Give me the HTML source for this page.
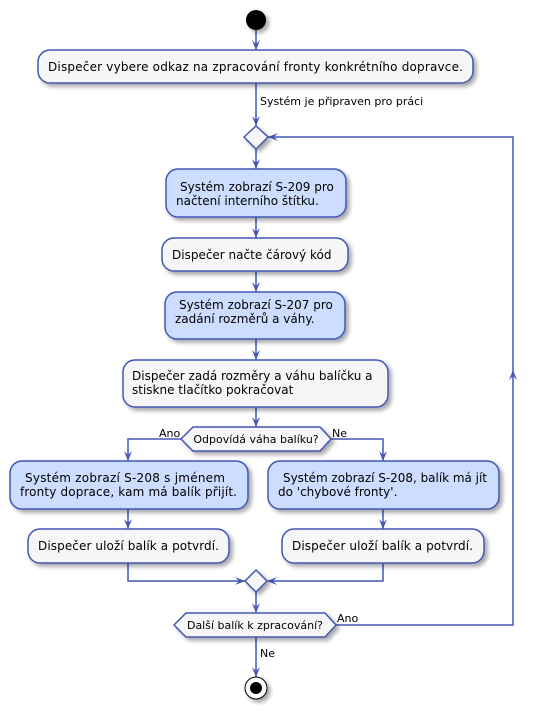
<!DOCTYPE html>
<html><head><meta charset="utf-8"><style>
body{margin:0;background:#fff}
svg text{font-family:"DejaVu Sans","Liberation Sans",sans-serif;fill:#000}
</style></head><body>
<svg width="536" height="710" viewBox="0 0 536 710" xmlns="http://www.w3.org/2000/svg">
<defs>
<filter id="sh" x="-10%" y="-10%" width="130%" height="140%"><feGaussianBlur in="SourceAlpha" stdDeviation="2"/><feOffset dx="3" dy="3"/><feComponentTransfer><feFuncA type="linear" slope="0.35"/></feComponentTransfer><feMerge><feMergeNode/><feMergeNode in="SourceGraphic"/></feMerge></filter>
</defs>
<g stroke="#4256b5" stroke-width="1.5" fill="none">
<line x1="256" y1="30" x2="256" y2="50"/>
<line x1="256" y1="83" x2="256" y2="126"/>
<line x1="256" y1="149" x2="256" y2="169"/>
<line x1="256" y1="217" x2="256" y2="238"/>
<line x1="256" y1="271" x2="256" y2="292"/>
<line x1="256" y1="339" x2="256" y2="360"/>
<line x1="256" y1="407" x2="256" y2="427"/>
<polyline points="181,439 128,439 128,461"/>
<polyline points="331,439 383,439 383,461"/>
<line x1="128" y1="509" x2="128" y2="529"/>
<line x1="383" y1="509" x2="383" y2="529"/>
<polyline points="128,563 128,581 245,581"/>
<polyline points="383,563 383,581 267,581"/>
<line x1="256" y1="592" x2="256" y2="613"/>
<line x1="256" y1="637" x2="256" y2="677"/>
<polyline points="336,625 513,625 513,137 268,137"/>
</g>
<g fill="#4256b5">
<polygon points="252,40 256,50 260,40 256,44"/>
<polygon points="252,116 256,126 260,116 256,120"/>
<polygon points="252,159 256,169 260,159 256,163"/>
<polygon points="252,228 256,238 260,228 256,232"/>
<polygon points="252,282 256,292 260,282 256,286"/>
<polygon points="252,350 256,360 260,350 256,354"/>
<polygon points="252,417 256,427 260,417 256,421"/>
<polygon points="124,451 128,461 132,451 128,455"/>
<polygon points="379,451 383,461 387,451 383,455"/>
<polygon points="124,519 128,529 132,519 128,523"/>
<polygon points="379,519 383,529 387,519 383,523"/>
<polygon points="235,577 245,581 235,585 239,581"/>
<polygon points="277,577 267,581 277,585 273,581"/>
<polygon points="252,603 256,613 260,603 256,607"/>
<polygon points="252,667 256,677 260,667 256,671"/>
<polygon points="278,133 268,137 278,141 274,137"/>
<polygon points="509,380 513,370 517,380 513,376"/>
</g>
<g stroke="#4256b5" stroke-width="1.5" filter="url(#sh)">
<circle cx="256" cy="20" r="10" fill="#000" stroke="none"/>
<rect x="38" y="50" width="435" height="33" rx="12" fill="#f6f6f6"/>
<polygon points="256,126 268,137 256,149 244,137" fill="#f6f6f6"/>
<rect x="166" y="169" width="180" height="48" rx="12" fill="#ccddff"/>
<rect x="162" y="238" width="186" height="33" rx="12" fill="#f6f6f6"/>
<rect x="165" y="292" width="180" height="47" rx="12" fill="#ccddff"/>
<rect x="123" y="360" width="265" height="47" rx="12" fill="#f6f6f6"/>
<polygon points="181,439 193,427 320,427 331,439 320,451 193,451" fill="#f6f6f6"/>
<rect x="10" y="461" width="238" height="48" rx="12" fill="#ccddff"/>
<rect x="268" y="461" width="231" height="48" rx="12" fill="#ccddff"/>
<rect x="28" y="529" width="201" height="34" rx="12" fill="#f6f6f6"/>
<rect x="282" y="529" width="202" height="34" rx="12" fill="#f6f6f6"/>
<polygon points="256,570 267,581 256,592 245,581" fill="#f6f6f6"/>
<polygon points="174,625 186,613 325,613 336,625 325,637 186,637" fill="#f6f6f6"/>
<circle cx="256" cy="688" r="11" fill="#fff" stroke="#000" stroke-width="1"/>
<circle cx="256" cy="688" r="6" fill="#000" stroke="none"/>
</g>
<g font-size="12">
<text x="48" y="71" textLength="415">Dispečer vybere odkaz na zpracování fronty konkrétního dopravce.</text>
<text x="180" y="191">Systém zobrazí S-209 pro</text>
<text x="176" y="205">načtení interního štítku.</text>
<text x="172" y="259">Dispečer načte čárový kód</text>
<text x="179" y="309">Systém zobrazí S-207 pro</text>
<text x="175" y="323">zadání rozměrů a váhy.</text>
<text x="132" y="380">Dispečer zadá rozměry a váhu balíčku a</text>
<text x="132" y="394">stiskne tlačítko pokračovat</text>
<text x="25" y="482" textLength="200">Systém zobrazí S-208 s jménem</text>
<text x="20" y="496" textLength="217">fronty doprace, kam má balík přijít.</text>
<text x="283" y="482" textLength="204">Systém zobrazí S-208, balík má jít</text>
<text x="278" y="496">do 'chybové fronty'.</text>
<text x="38" y="550" textLength="181">Dispečer uloží balík a potvrdí.</text>
<text x="292" y="550" textLength="181">Dispečer uloží balík a potvrdí.</text>
</g>
<g font-size="11">
<text x="260" y="105">Systém je připraven pro práci</text>
<text x="256" y="443" text-anchor="middle">Odpovídá váha balíku?</text>
<text x="159" y="437">Ano</text>
<text x="332" y="437">Ne</text>
<text x="255" y="629" text-anchor="middle">Další balík k zpracování?</text>
<text x="337" y="622">Ano</text>
<text x="260" y="657">Ne</text>
</g>
</svg>
</body></html>
